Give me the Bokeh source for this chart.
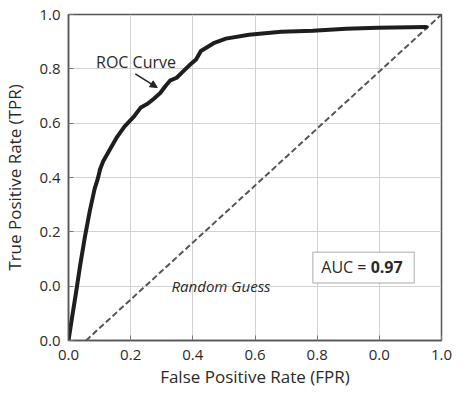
from bokeh.plotting import figure
from bokeh.models import Label, BoxAnnotation, Arrow, NormalHead, FixedTicker
from bokeh.embed import file_html
from bokeh.resources import INLINE

# ROC curve (in frame fractions 0..1)
fpr = [0.000, 0.010, 0.021, 0.031, 0.044, 0.057, 0.070, 0.078, 0.085, 0.093,
       0.109, 0.130, 0.150, 0.174, 0.194, 0.212, 0.228, 0.246, 0.259, 0.272,
       0.290, 0.306, 0.324, 0.342, 0.355, 0.389, 0.422, 0.484, 0.570, 0.655,
       0.744, 0.829, 0.959]
tpr = [0.000, 0.074, 0.153, 0.229, 0.318, 0.397, 0.465, 0.494, 0.526, 0.550,
       0.582, 0.624, 0.656, 0.685, 0.715, 0.726, 0.741, 0.759, 0.779, 0.797,
       0.806, 0.824, 0.844, 0.862, 0.888, 0.912, 0.926, 0.938, 0.947, 0.950,
       0.956, 0.959, 0.962]

# Random-guess diagonal
diag_x = [0.047, 1.0]
diag_y = [0.0, 1.0]

# Tick labels as printed on the chart
x_tick_labels = ["0.0", "0.2", "0.4", "0.6", "0.8", "0.0", "1.0"]
y_tick_labels = ["0.0", "0.0", "0.2", "0.4", "0.6", "0.8", "1.0"]

x_label = "False Positive Rate (FPR)"
y_label = "True Positive Rate (TPR)"
auc_value = "0.97"

FONT = "Open Sans"
TXT = "#2a2a2a"

n = len(x_tick_labels) - 1
ticks = [i / n for i in range(n + 1)]

p = figure(width=453, height=394, x_range=(0, 1), y_range=(0, 1),
           output_backend="svg", toolbar_location=None,
           min_border_left=67, min_border_right=12, min_border_top=14,
           min_border_bottom=54)
p.background_fill_color = "white"
p.border_fill_color = "white"
p.outline_line_color = "#555555"
p.outline_line_width = 1.5

for ax, labels in ((p.xaxis, x_tick_labels), (p.yaxis, y_tick_labels)):
    ax.ticker = FixedTicker(ticks=ticks)
    ax.major_label_overrides = {t: l for t, l in zip(ticks, labels)}
    ax.major_label_text_font = FONT
    ax.major_label_text_font_size = "15px"
    ax.major_label_text_color = TXT
    ax.axis_label_text_font = FONT
    ax.axis_label_text_font_size = "17px"
    ax.axis_label_text_font_style = "normal"
    ax.axis_label_text_color = TXT
    ax.axis_line_color = "#555555"
    ax.axis_line_width = 1.5
    ax.major_tick_line_color = "#777777"
    ax.major_tick_in = 5
    ax.major_tick_out = 0
    ax.minor_tick_line_color = None

p.xaxis.axis_label = x_label
p.yaxis.axis_label = y_label
p.xaxis.major_label_standoff = 9
p.xaxis.axis_label_standoff = 2
p.yaxis.major_label_standoff = 8
p.yaxis.axis_label_standoff = 10

p.grid.grid_line_color = "#d2d2d2"
p.grid.grid_line_width = 1

p.line(diag_x, diag_y, line_color="#555555", line_width=2, line_dash="6 3")
p.line(fpr, tpr, line_color="#1e1e1e", line_width=4, line_join="round", line_cap="round")

# annotations
p.add_layout(Label(x=0.181, y=0.853, text="ROC Curve", text_font=FONT,
                   text_font_size="16px", text_color=TXT,
                   text_align="center", text_baseline="middle"))
p.add_layout(Arrow(x_start=0.179, y_start=0.818, x_end=0.238, y_end=0.776,
                   line_color="#222222", line_width=1.5,
                   end=NormalHead(size=7, fill_color="#222222", line_color="#222222")))
p.add_layout(Label(x=0.409, y=0.168, text="Random Guess", text_font=FONT,
                   text_font_size="15px", text_font_style="italic", text_color=TXT,
                   text_align="center", text_baseline="middle"))

p.add_layout(BoxAnnotation(left=0.655, right=0.927, bottom=0.176, top=0.271,
                           fill_color="white", fill_alpha=1.0,
                           line_color="#444444", line_width=1.5))
p.add_layout(Label(x=0.81, y=0.224, text="AUC = ", text_font=FONT,
                   text_font_size="16px", text_color=TXT,
                   text_align="right", text_baseline="middle"))
p.add_layout(Label(x=0.81, y=0.224, text=auc_value, text_font=FONT,
                   text_font_size="16px", text_font_style="bold", text_color=TXT,
                   text_align="left", text_baseline="middle"))

open("out.html", "w").write(file_html(p, INLINE))
